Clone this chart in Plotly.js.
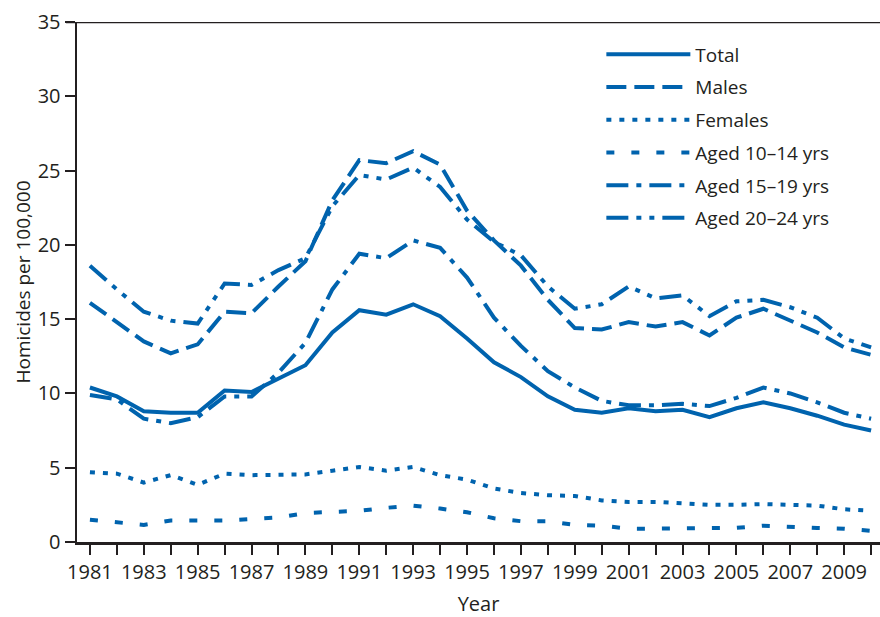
<!DOCTYPE html>
<html>
<head>
<meta charset="utf-8">
<script src="https://cdn.plot.ly/plotly-3.0.1.min.js"></script>
<style>html,body{margin:0;padding:0;background:#fff;}#chart{width:880px;height:617px;}</style>
</head>
<body>
<div id="chart"></div>
<script>
const years = [1981,1982,1983,1984,1985,1986,1987,1988,1989,1990,1991,1992,1993,1994,1995,1996,1997,1998,1999,2000,2001,2002,2003,2004,2005,2006,2007,2008,2009,2010];
const total   = [10.4,9.8,8.8,8.7,8.7,10.2,10.1,11.0,11.9,14.1,15.6,15.3,16.0,15.2,13.7,12.1,11.1,9.8,8.9,8.7,9.0,8.8,8.9,8.4,9.0,9.4,9.0,8.5,7.9,7.5];
const males   = [16.1,14.8,13.5,12.7,13.3,15.5,15.4,17.2,18.9,23.0,25.7,25.5,26.3,25.4,22.3,20.3,18.6,16.3,14.4,14.3,14.8,14.5,14.8,13.9,15.1,15.7,14.9,14.1,13.1,12.6];
const females = [4.7,4.6,4.0,4.5,3.85,4.6,4.5,4.5,4.55,4.8,5.05,4.8,5.05,4.5,4.2,3.6,3.3,3.15,3.1,2.8,2.7,2.7,2.6,2.5,2.5,2.55,2.5,2.45,2.2,2.1];
const aged10_14 = [1.5,1.3,1.15,1.45,1.45,1.45,1.55,1.65,1.95,2.05,2.1,2.3,2.45,2.25,2.0,1.6,1.4,1.4,1.15,1.1,0.9,0.9,0.9,0.9,0.95,1.1,1.0,0.95,0.9,0.75];
const aged15_19 = [9.9,9.6,8.3,8.0,8.4,9.8,9.8,11.4,13.4,17.0,19.4,19.1,20.3,19.8,17.8,15.1,13.2,11.5,10.4,9.5,9.2,9.2,9.3,9.15,9.7,10.4,10.0,9.4,8.7,8.3];
const aged20_24 = [18.6,17.0,15.5,14.9,14.7,17.4,17.3,18.3,19.1,22.6,24.7,24.4,25.2,23.9,21.7,20.2,19.3,17.2,15.7,16.0,17.2,16.4,16.6,15.2,16.2,16.3,15.8,15.1,13.7,13.1];
const seriesNames = ["Total","Males","Females","Aged 10–14 yrs","Aged 15–19 yrs","Aged 20–24 yrs"];

const blue = "#0063ae";
const dashes = ["solid","20px,8px","5px,8px","8px,17px","22px,8px,5px,8px","22px,8px,5px,8px,5px,8px"];
const data = [total, males, females, aged10_14, aged15_19, aged20_24];

const traces = data.map((ys, i) => ({
  x: years, y: ys, type: "scatter", mode: "lines", name: seriesNames[i],
  legendgroup: "g" + i,
  line: {color: blue, width: 4, dash: dashes[i]}
}));

const txt = "#231f20";
const layout = {
  width: 880, height: 617,
  margin: {l: 77, r: 0, t: 22, b: 75},
  paper_bgcolor: "#fff", plot_bgcolor: "#fff",
  font: {family: "Open Sans, sans-serif", color: txt, size: 19},
  showlegend: true,
  legend: {x: 0.653, y: 0.974, xanchor: "left", yanchor: "top", bgcolor: "rgba(0,0,0,0)",
           font: {size: 19, color: txt}, itemwidth: 84, tracegroupgap: 5},
  xaxis: {
    range: [1980.52, 2010.33], dtick: 2, tick0: 1981, showgrid: false, zeroline: false,
    showline: true, linecolor: txt, linewidth: 2.5,
    ticks: "outside", ticklen: 10, tickwidth: 2, tickcolor: txt,
    minor: {dtick: 1, tick0: 1981, ticks: "outside", ticklen: 10, tickwidth: 2, tickcolor: txt, showgrid: false},
    tickfont: {size: 20, color: txt},
    title: {text: "Year", font: {size: 20, color: txt}, standoff: 27}
  },
  yaxis: {
    range: [0, 35], dtick: 5, showgrid: false, zeroline: false,
    showline: true, linecolor: txt, linewidth: 2.5,
    ticks: "outside", ticklen: 10, tickwidth: 2, tickcolor: txt,
    tickfont: {size: 20, color: txt},
    title: {text: "Homicides per 100,000", font: {size: 19, color: txt}, standoff: 2}
  },
  shapes: [{type: "line", xref: "paper", yref: "y", x0: -0.0138, x1: 1, y0: 35, y1: 35,
            layer: "above", line: {color: txt, width: 2.5}}]
};
Plotly.newPlot("chart", traces, layout, {displayModeBar: false, staticPlot: true});
</script>
</body>
</html>
